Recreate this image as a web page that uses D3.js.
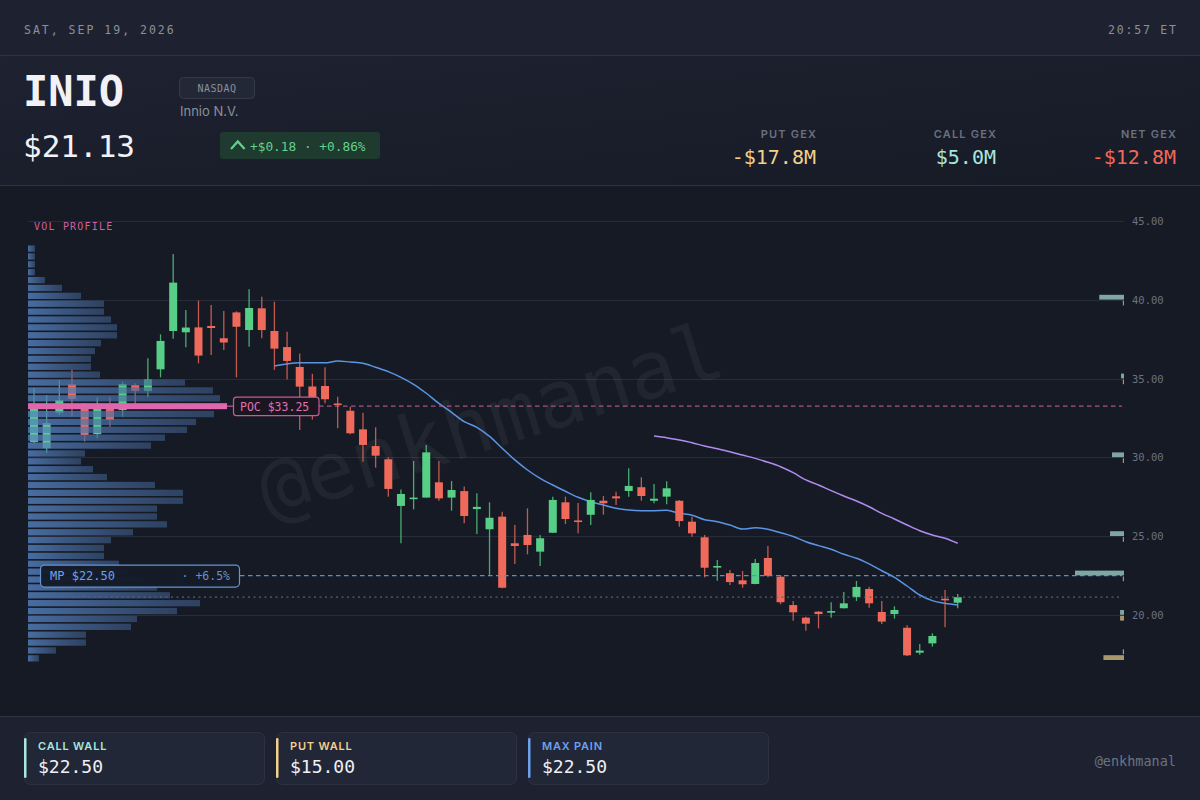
<!DOCTYPE html>
<html><head><meta charset="utf-8">
<script src="https://cdn.jsdelivr.net/npm/d3@7/dist/d3.min.js"></script>
<style>html,body{margin:0;padding:0;background:#161a24;overflow:hidden}svg{display:block}</style>
</head><body><svg id="c" width="1200" height="800"></svg>
<script>
// ---------- DATA ----------
const opens  = [30.98,30.58,32.84,34.64,33.39,31.47,33.32,33.00,34.59,34.21,35.59,38.02,37.94,38.25,38.34,37.56,39.20,38.08,39.46,38.02,37.00,35.74,34.50,34.53,33.42,32.96,31.78,30.72,29.88,26.92,27.38,27.45,28.42,27.45,27.86,26.72,25.44,26.24,24.55,25.08,24.02,25.22,27.15,26.00,26.36,27.25,27.53,27.87,28.11,27.25,27.51,27.25,25.92,24.93,23.05,22.65,22.20,21.97,23.62,22.43,20.63,19.83,20.21,20.15,20.43,21.14,21.65,20.19,20.06,19.19,17.61,18.20,21.03,20.78];
const highs  = [34.40,33.96,34.91,35.55,33.45,33.81,33.85,34.80,34.70,36.29,37.81,42.91,39.35,39.95,39.67,39.29,39.27,40.67,40.20,39.88,37.98,36.60,35.30,35.72,33.85,33.21,32.84,31.91,30.00,27.97,29.77,30.79,29.77,28.50,28.15,27.72,27.15,26.55,25.71,26.77,25.08,27.51,27.51,27.10,27.79,27.55,27.82,29.31,28.74,28.31,28.48,27.30,26.24,25.08,23.49,22.86,22.79,23.55,24.38,22.54,20.89,19.89,20.25,20.81,21.46,22.16,21.80,20.89,20.55,19.35,18.16,18.84,21.59,21.33];
const lows   = [30.90,30.28,32.69,32.58,31.00,31.21,31.95,32.58,33.20,33.81,35.08,37.53,36.99,35.97,36.50,36.82,35.08,37.02,37.56,35.55,34.95,31.74,32.40,33.43,31.85,31.47,29.73,29.35,27.51,24.55,26.70,27.45,27.25,26.62,25.82,25.14,22.54,21.69,23.24,23.85,23.11,25.20,25.77,25.18,25.71,26.36,26.98,27.51,27.25,27.09,27.03,25.60,24.97,22.39,22.18,21.90,21.73,21.95,22.39,20.68,19.64,19.00,19.15,19.83,20.41,20.89,20.46,19.43,19.77,17.40,17.48,17.99,19.22,20.43];
const closes = [33.26,32.18,33.64,33.71,31.42,33.32,32.37,34.66,34.21,34.95,37.39,41.09,38.24,36.46,38.21,37.29,38.29,39.48,38.08,36.90,36.12,34.49,33.60,33.69,33.35,31.53,30.79,30.11,28.00,27.68,27.45,30.32,27.40,27.93,26.28,26.86,26.17,21.73,24.38,24.44,24.87,27.30,26.09,25.92,27.30,27.09,27.40,28.19,27.55,27.38,28.04,25.96,25.18,23.00,23.11,22.09,21.95,23.30,22.49,20.81,20.17,19.45,20.06,20.25,20.74,21.78,20.74,19.58,20.32,17.44,17.74,18.67,20.95,21.13];

// moving averages (start index, values)
const ma20Start = 19;
const ma20 = [35.80,35.93,36.00,36.00,36.00,36.12,36.05,35.97,35.72,35.44,35.08,34.64,34.07,33.43,32.86,32.27,31.91,31.33,30.58,29.84,29.20,28.67,28.25,27.85,27.47,27.19,26.98,26.77,26.66,26.62,26.62,26.64,26.45,26.33,26.05,25.92,25.71,25.46,25.53,25.44,25.22,24.98,24.65,24.40,24.17,23.85,23.60,23.24,22.81,22.39,21.84,21.27,20.91,20.74,20.63];
const ma50Start = 49;
const ma50 = [31.36,31.25,31.10,30.93,30.72,30.55,30.36,30.15,29.94,29.69,29.41,29.03,28.57,28.25,27.89,27.55,27.23,26.87,26.45,26.09,25.71,25.35,25.08,24.87,24.55];

// volume profile
const profileLevels = [43.25,42.75,42.25,41.75,41.25,40.75,40.25,39.75,39.25,38.75,38.25,37.75,37.25,36.75,36.25,35.75,35.25,34.75,34.25,33.75,33.25,32.75,32.25,31.75,31.25,30.75,30.25,29.75,29.25,28.75,28.25,27.75,27.25,26.75,26.25,25.75,25.25,24.75,24.25,23.75,23.25,22.75,22.25,21.75,21.25,20.75,20.25,19.75,19.25,18.75,18.25,17.75,17.25];
const profileVolume = [7,7,7,7,17,34,53,76,76,83,89,89,73,67,63,63,72,157,185,192,199,186,168,159,137,123,57,53,65,79,127,155,155,129,129,139,105,83,76,76,91,100,115,129,142,172,149,109,103,58,58,28,11];
const pocPrice = 33.25;

// gamma exposure by strike ($M)
const gexStrikes = [17.5,20,22.5,25,30,35,40];
const callGex = [0.04,0.16,2.00,0.57,0.49,0.12,1.01];
const putGex  = [0.84,0.16,0.04,0.04,0.04,0.04,0.04];

const yTicks = [20,25,30,35,40,45];
const lastPrice = 21.13, maxPain = 22.50, callWall = 22.50, putWall = 15.00;
const ticker = "INIO", exchange = "NASDAQ", company = "Innio N.V.";
const dateText = "SAT, SEP 19, 2026", timeText = "20:57 ET";
const changeText = "+$0.18 · +0.86%";
const gexStats = [{label:"PUT GEX", value:"-$17.8M", color:"#f3d08c"},{label:"CALL GEX", value:"$5.0M", color:"#a8e6df"},{label:"NET GEX", value:"-$12.8M", color:"#f0685a"}];
const cards = [{label:"CALL WALL", value:"$22.50", color:"#a8e6df"},{label:"PUT WALL", value:"$15.00", color:"#f3d08c"},{label:"MAX PAIN", value:"$22.50", color:"#6ea1ec"}];

// ---------- DRAW ----------
const MONO = "'DejaVu Sans Mono','Liberation Mono',monospace";
const SANS = "Inter,'Noto Sans',sans-serif";
const svg = d3.select("#c");
const defs = svg.append("defs");
const hg = defs.append("linearGradient").attr("id","hdr").attr("x1",0).attr("y1",0).attr("x2",1).attr("y2",1);
hg.append("stop").attr("offset","0%").attr("stop-color","#1e2231");
hg.append("stop").attr("offset","100%").attr("stop-color","#171b26");
const pg = defs.append("linearGradient").attr("id","prof").attr("x1",0).attr("y1",0).attr("x2",1).attr("y2",0);
pg.append("stop").attr("offset","0%").attr("stop-color","#5684c4").attr("stop-opacity",0.78);
pg.append("stop").attr("offset","100%").attr("stop-color","#3d5a86").attr("stop-opacity",0.62);

svg.append("rect").attr("width",1200).attr("height",800).attr("fill","#161a24");
svg.append("rect").attr("width",1200).attr("height",55).attr("fill","#1e2230");
svg.append("rect").attr("y",56).attr("width",1200).attr("height",129).attr("fill","url(#hdr)");
svg.append("rect").attr("y",717).attr("width",1200).attr("height",83).attr("fill","#1e2230");
[55.5,185.5,716.5].forEach(y=>svg.append("line").attr("x1",0).attr("x2",1200).attr("y1",y).attr("y2",y).attr("stroke","#2d3341"));

// header texts
svg.append("text").attr("x",24).attr("y",34).text(dateText).attr("font-family",MONO).attr("font-size",11.5).attr("letter-spacing",2).attr("fill","#8a8f9c");
svg.append("text").attr("x",1176+1.8).attr("y",34).attr("text-anchor","end").text(timeText).attr("font-family",MONO).attr("font-size",11.5).attr("letter-spacing",1.8).attr("fill","#8a8f9c");
svg.append("text").attr("x",23).attr("y",106).text(ticker).attr("font-family",MONO).attr("font-weight","bold").attr("font-size",42).attr("fill","#f2f2f6");
svg.append("text").attr("x",23).attr("y",157).text("$"+lastPrice.toFixed(2)).attr("font-family",MONO).attr("font-size",31).attr("fill","#f2f2f6");
svg.append("rect").attr("x",179.5).attr("y",77.5).attr("width",75).attr("height",21).attr("rx",4).attr("fill","#232836").attr("stroke","#343a48");
svg.append("text").attr("x",217).attr("y",92).attr("text-anchor","middle").text(exchange).attr("font-family",MONO).attr("font-size",10).attr("letter-spacing",0.5).attr("fill","#8a8f9c");
svg.append("text").attr("x",180).attr("y",115.5).text(company).attr("font-family",SANS).attr("font-size",13).attr("fill","#8a8f9c");
svg.append("rect").attr("x",220).attr("y",132).attr("width",160).attr("height",27).attr("rx",3).attr("fill","#1f3a2e");
svg.append("path").attr("d","M231,149 L237.8,141.5 L244.6,149").attr("fill","none").attr("stroke","#5fd38d").attr("stroke-width",2.2);
svg.append("text").attr("x",250).attr("y",150.5).text(changeText).attr("font-family",MONO).attr("font-size",12.8).attr("fill","#5fd38d");
const statX = [816,996,1176];
gexStats.forEach((s,i)=>{
  svg.append("text").attr("x",statX[i]+1.2).attr("y",138).attr("text-anchor","end").text(s.label).attr("font-family",SANS).attr("font-weight",600).attr("font-size",11).attr("letter-spacing",1.2).attr("fill","#6b7180");
  svg.append("text").attr("x",statX[i]).attr("y",164).attr("text-anchor","end").text(s.value).attr("font-family",MONO).attr("font-size",20).attr("fill",s.color);
});

// scales
const x = d3.scalePoint().domain(d3.range(opens.length)).range([34, 957.7]);
const y = d3.scaleLinear().domain([20,45]).range([615,221]);
const xL = 28, xR = 1124;

// grid + axis
const g = svg.append("g");
g.selectAll(".grid").data(yTicks).join("line").attr("x1",xL).attr("x2",xR).attr("y1",d=>Math.round(y(d))+0.5).attr("y2",d=>Math.round(y(d))+0.5).attr("stroke","#262c39").attr("stroke-width",1);
g.selectAll(".tl").data(yTicks).join("text").attr("x",1132).attr("y",d=>y(d)+4).text(d=>d.toFixed(2)).attr("font-family",MONO).attr("font-size",10.5).attr("fill","#6b7280");

// watermark
svg.append("text").attr("transform","translate(492,426) rotate(-17.5)").attr("text-anchor","middle").attr("dominant-baseline","middle").text("@enkhmanal").attr("font-family",MONO).attr("font-size",80).attr("fill","#ffffff").attr("fill-opacity",0.05);

// MA lines
const line = d3.line().x(d=>x(d.i)).y(d=>y(d.v)).curve(d3.curveMonotoneX);
svg.append("path").datum(ma20.map((v,k)=>({i:k+ma20Start,v}))).attr("d",line).attr("fill","none").attr("stroke","#5b95e6").attr("stroke-width",1.5);
svg.append("path").datum(ma50.map((v,k)=>({i:k+ma50Start,v}))).attr("d",line).attr("fill","none").attr("stroke","#b38bf0").attr("stroke-width",1.5);

// candles
const up = "#58cf86", dn = "#ef6a5b";
const cg = svg.append("g");
const idx = d3.range(opens.length);
cg.selectAll(".wick").data(idx).join("line").attr("x1",i=>x(i)).attr("x2",i=>x(i)).attr("y1",i=>y(highs[i])).attr("y2",i=>y(lows[i])).attr("stroke",i=>closes[i]>=opens[i]?up:dn).attr("stroke-opacity",0.8).attr("stroke-width",1.3);
cg.selectAll(".body").data(idx).join("rect").attr("x",i=>x(i)-4).attr("width",8).attr("y",i=>y(Math.max(opens[i],closes[i]))).attr("height",i=>Math.max(1.6,Math.abs(y(opens[i])-y(closes[i])))).attr("fill",i=>closes[i]>=opens[i]?up:dn);

// volume profile
const xv = d3.scaleLinear().domain([0,d3.max(profileVolume)]).range([0,199]);
const pgp = svg.append("g");
pgp.selectAll("rect").data(profileLevels).join("rect")
  .attr("x",xL).attr("width",(d,i)=>xv(profileVolume[i]))
  .attr("y",d=>d===pocPrice? y(d)-3 : y(d+0.25)+0.8)
  .attr("height",d=>d===pocPrice? 6 : (y(d-0.25)-y(d+0.25))-1.6)
  .attr("fill",d=>d===pocPrice?"#df67b0":"url(#prof)");
svg.append("line").attr("x1",xL).attr("x2",xL).attr("y1",y(43.5)).attr("y2",y(17)).attr("stroke","#161a24").attr("stroke-width",0);
svg.append("text").attr("x",34).attr("y",230).text("VOL PROFILE").attr("font-family",MONO).attr("font-size",10).attr("letter-spacing",1.2).attr("fill","#d0609f");

// reference lines
const pocW = xv(profileVolume[profileLevels.indexOf(pocPrice)]);
svg.append("line").attr("x1",xL+pocW).attr("x2",233).attr("y1",y(pocPrice)).attr("y2",y(pocPrice)).attr("stroke","#c65a9a").attr("stroke-width",1.2);
svg.append("line").attr("x1",319).attr("x2",xR-2).attr("y1",y(pocPrice)).attr("y2",y(pocPrice)).attr("stroke","#c65a9a").attr("stroke-opacity",0.85).attr("stroke-dasharray","4.5,3.5").attr("stroke-width",1.2);
svg.append("rect").attr("x",233.5).attr("y",y(pocPrice)-9).attr("width",85.5).attr("height",18.5).attr("rx",3).attr("fill","#19161f").attr("stroke","#c65a9a").attr("stroke-width",1.2);
svg.append("text").attr("x",240).attr("y",y(pocPrice)+4.5).text("POC $"+pocPrice.toFixed(2)).attr("font-family",MONO).attr("font-size",11.5).attr("fill","#e070b8");

svg.append("line").attr("x1",xL).attr("x2",xR-2).attr("y1",y(lastPrice)).attr("y2",y(lastPrice)).attr("stroke","#56607a").attr("stroke-dasharray","2,3.5").attr("stroke-width",1.2);
svg.append("line").attr("x1",240).attr("x2",xR-2).attr("y1",y(maxPain)).attr("y2",y(maxPain)).attr("stroke","#5b8fd0").attr("stroke-dasharray","4.5,3.5").attr("stroke-width",1.2);
svg.append("rect").attr("x",40.5).attr("y",y(maxPain)-10.5).attr("width",199).attr("height",22).attr("rx",4).attr("fill","#141a27").attr("fill-opacity",0.95).attr("stroke","#6594d4").attr("stroke-width",1.2);
svg.append("text").attr("x",50).attr("y",y(maxPain)+4.5).text("MP $"+maxPain.toFixed(2)).attr("font-family",MONO).attr("font-size",12).attr("fill","#6ea1ec");
svg.append("text").attr("x",230).attr("y",y(maxPain)+4.5).attr("text-anchor","end").text("· +"+((maxPain/lastPrice-1)*100).toFixed(1)+"%").attr("font-family",MONO).attr("font-size",11.5).attr("fill","#6b8fc4");

// GEX bars on the right
const xg = d3.scaleLinear().domain([0,2]).range([0,49]);
const gg = svg.append("g");
gg.selectAll(".call").data(gexStrikes).join("rect").attr("x",(d,i)=>xR-Math.max(1.2,xg(callGex[i]))).attr("width",(d,i)=>Math.max(1.2,xg(callGex[i]))).attr("y",d=>y(d)-5).attr("height",4.8).attr("fill","#7fa6a4");
gg.selectAll(".put").data(gexStrikes).join("rect").attr("x",(d,i)=>xR-Math.max(1.2,xg(putGex[i]))).attr("width",(d,i)=>Math.max(1.2,xg(putGex[i]))).attr("y",d=>y(d)+0.8).attr("height",4.8).attr("fill","#a8976c");

// footer cards
const cardX = [24,276,528];
cards.forEach((c,i)=>{
  svg.append("rect").attr("x",cardX[i]+0.5).attr("y",732.5).attr("width",240).attr("height",52).attr("rx",6).attr("fill","#222737").attr("stroke","#2c3242");
  svg.append("rect").attr("x",cardX[i]).attr("y",738).attr("width",2.5).attr("height",40).attr("rx",1.2).attr("fill",c.color);
  svg.append("text").attr("x",cardX[i]+14).attr("y",750).text(c.label).attr("font-family",SANS).attr("font-weight",600).attr("font-size",11).attr("letter-spacing",0.8).attr("fill",c.color);
  svg.append("text").attr("x",cardX[i]+14).attr("y",773).text(c.value).attr("font-family",MONO).attr("font-size",18).attr("fill","#eef0f4");
});
svg.append("text").attr("x",1176).attr("y",766).attr("text-anchor","end").text("@enkhmanal").attr("font-family",MONO).attr("font-size",13.5).attr("fill","#6b7280");
</script></body></html>
